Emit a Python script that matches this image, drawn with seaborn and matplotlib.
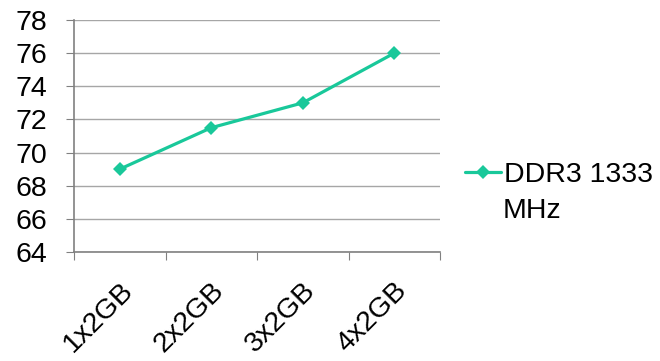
import matplotlib
matplotlib.use('Agg')
import matplotlib.pyplot as plt
import seaborn as sns
import pandas as pd

categories = ['1x2GB', '2x2GB', '3x2GB', '4x2GB']
values = [69, 71.5, 73, 76]
series_name = 'DDR3 1333'
series_name_tail = 'MHz'
yticks = [64, 66, 68, 70, 72, 74, 76, 78]

sns.set_style('white')
plt.rcParams['font.family'] = ['Liberation Sans', 'DejaVu Sans']
plt.rcParams['text.color'] = 'black'
plt.rcParams['xtick.color'] = 'black'
plt.rcParams['ytick.color'] = 'black'

df = pd.DataFrame({'config': categories, 'score': values})
df['pos'] = range(len(categories))

fs = 20.5
fig = plt.figure(figsize=(6.6, 3.61), dpi=100)
ax = fig.add_axes([74 / 660, 1 - 252 / 361, (440 - 74) / 660, (252 - 20) / 361])

sns.lineplot(data=df, x='pos', y='score', ax=ax, color='#19C89A', linewidth=2.3,
             marker='D', markersize=7, markeredgewidth=0, label=series_name)

ax.set_ylim(64, 78)
ax.set_yticks(yticks)
ax.set_xlim(-0.5, len(categories) - 0.5)
ax.set_xticks([i - 0.5 for i in range(len(categories) + 1)])
ax.set_xticklabels([])
ax.set_xticks(range(len(categories)), minor=True)
ax.set_xticklabels(categories, minor=True, rotation=45, ha='right',
                   rotation_mode='anchor', fontsize=fs)
ax.tick_params(axis='x', which='minor', length=0, pad=18)
ax.tick_params(axis='x', which='major', length=6, color='#808080', direction='out', bottom=True)
ax.tick_params(axis='y', length=6, color='#808080', direction='out', left=True, labelsize=fs, pad=13)

ax.yaxis.grid(True, color='#A6A6A6', linewidth=1)
ax.set_axisbelow(True)
for side in ['top', 'right']:
    ax.spines[side].set_visible(False)
for side in ['left', 'bottom']:
    ax.spines[side].set_color('#808080')
    ax.spines[side].set_linewidth(1.2)

ax.set_xlabel('')
ax.set_ylabel('')
ax.legend(loc='center left', bbox_to_anchor=(465 / 660, 1 - 175 / 361),
          bbox_transform=fig.transFigure, frameon=False, fontsize=fs,
          handlelength=1.25, handletextpad=0.12, borderaxespad=0, borderpad=0)
fig.text(503 / 660, 1 - 211 / 361, series_name_tail, fontsize=fs, va='center', ha='left')

fig.savefig('out.png', dpi=100)
